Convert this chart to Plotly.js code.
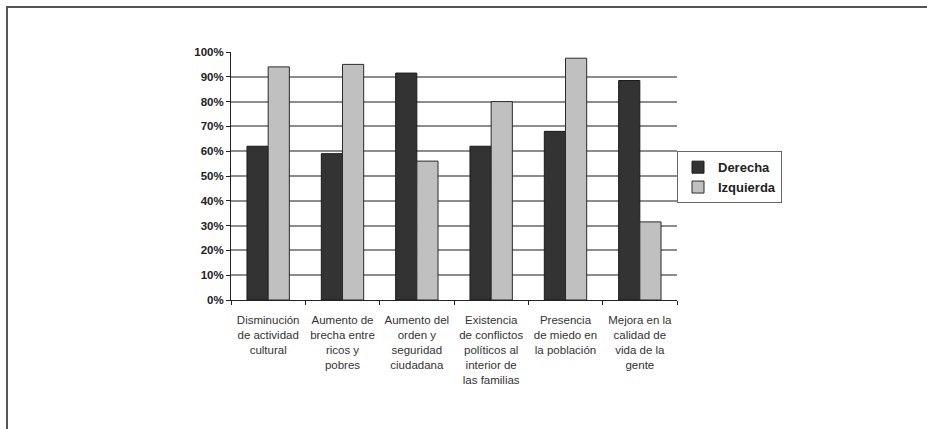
<!DOCTYPE html>
<html>
<head>
<meta charset="utf-8">
<script src="https://cdn.plot.ly/plotly-3.0.1.min.js"></script>
<style>
html,body{margin:0;padding:0;background:#fff;}
#wrap{position:relative;width:927px;height:429px;overflow:hidden;}
#chart{width:927px;height:429px;}
#frame{position:absolute;left:6px;top:6px;right:-10px;bottom:-10px;border-top:2px solid #555;border-left:2px solid #555;pointer-events:none;}
</style>
</head>
<body>
<div id="wrap"><div id="chart"></div><div id="frame"></div></div>
<script>
const categories = [
  "Disminución<br>de actividad<br>cultural",
  "Aumento de<br>brecha entre<br>ricos y<br>pobres",
  "Aumento del<br>orden y<br>seguridad<br>ciudadana",
  "Existencia<br>de conflictos<br>políticos al<br>interior de<br>las familias",
  "Presencia<br>de miedo en<br>la población",
  "Mejora en la<br>calidad de<br>vida de la<br>gente"
];
const derecha = [62, 59, 91.5, 62, 68, 88.5];
const izquierda = [94, 95, 56, 80, 97.5, 31.5];
const yTickVals = [0,10,20,30,40,50,60,70,80,90,100];
const yTickText = ["0%","10%","20%","30%","40%","50%","60%","70%","80%","90%","100%"];

const traces = [
  {type:'bar', name:'Derecha', x:categories, y:derecha,
   marker:{color:'#333333', line:{color:'#1a1a1a', width:1}}},
  {type:'bar', name:'Izquierda', x:categories, y:izquierda,
   marker:{color:'#c0c0c0', line:{color:'#2a2a2a', width:1}}}
];
const layout = {
  width:927, height:429,
  margin:{l:231, r:250, t:52, b:129, pad:0},
  paper_bgcolor:'#fff', plot_bgcolor:'#fff',
  barmode:'group', bargap:0.43, bargroupgap:0,
  showlegend:true,
  font:{family:'Liberation Sans, Arial, sans-serif', color:'#222'},
  legend:{x:1.0, y:0.6, xanchor:'left', yanchor:'top',
    bordercolor:'#666', borderwidth:1, bgcolor:'#fff',
    font:{size:13, family:'Liberation Sans, Arial, sans-serif', weight:'bold', color:'#222'},
    tracegroupgap:4, itemwidth:30},
  xaxis:{type:'category', showline:true, linecolor:'#222', linewidth:1,
    ticks:'outside', tickson:'boundaries', ticklen:4, tickcolor:'#222',
    ticklabelstandoff:9,
    showgrid:false, tickfont:{size:11.5, color:'#333'}, fixedrange:true},
  yaxis:{range:[0,100], tickvals:yTickVals, ticktext:yTickText,
    showline:true, linecolor:'#222', linewidth:1, ticks:'outside', ticklen:4, tickcolor:'#222',
    showgrid:true, gridcolor:'#8c8c8c', gridwidth:2, zeroline:false,
    tickfont:{size:11.5, weight:'bold', color:'#222'}, fixedrange:true}
};
Plotly.newPlot('chart', traces, layout, {staticPlot:true, displayModeBar:false});
</script>
</body>
</html>
